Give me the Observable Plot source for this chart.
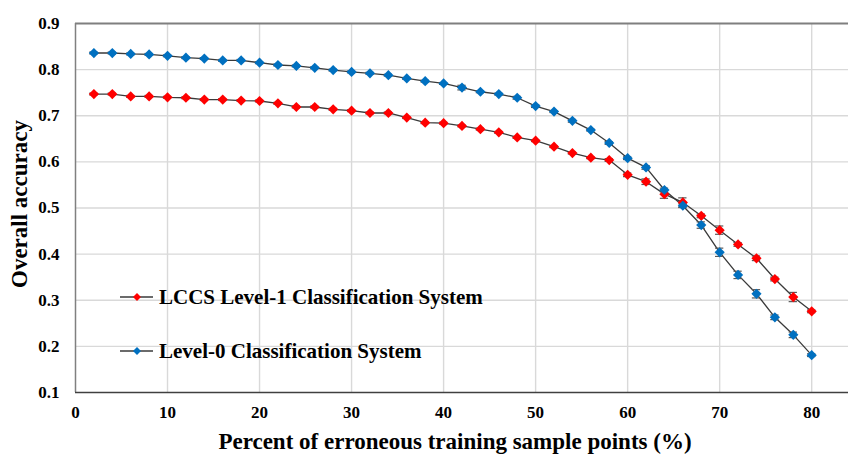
<!DOCTYPE html>
<html>
<head>
<meta charset="utf-8">
<script src="https://cdn.jsdelivr.net/npm/d3@7"></script>
<script src="https://cdn.jsdelivr.net/npm/@observablehq/plot@0.6"></script>
<style>
  html, body { margin: 0; padding: 0; background: #fff; }
  #chart { width: 848px; height: 454px; overflow: hidden; }
</style>
</head>
<body>
<div id="chart"></div>
<script>
// ---- data ----
const errorPct = [2,4,6,8,10,12,14,16,18,20,22,24,26,28,30,32,34,36,38,40,42,44,46,48,50,52,54,56,58,60,62,64,66,68,70,72,74,76,78,80];
const level1 = [0.747,0.747,0.742,0.742,0.740,0.739,0.735,0.735,0.733,0.732,0.727,0.719,0.719,0.714,0.711,0.706,0.706,0.696,0.685,0.684,0.678,0.671,0.664,0.653,0.646,0.633,0.619,0.609,0.604,0.572,0.557,0.530,0.512,0.483,0.452,0.421,0.391,0.346,0.307,0.276];
const level1Err = [0.002,0.002,0.002,0.002,0.002,0.002,0.002,0.002,0.002,0.002,0.002,0.002,0.002,0.002,0.002,0.002,0.002,0.002,0.002,0.002,0.002,0.002,0.002,0.002,0.002,0.002,0.002,0.002,0.003,0.004,0.006,0.009,0.010,0.004,0.009,0.004,0.005,0.004,0.010,0.003];
const level0 = [0.836,0.836,0.834,0.833,0.830,0.826,0.824,0.820,0.820,0.815,0.810,0.808,0.804,0.799,0.795,0.792,0.788,0.781,0.775,0.770,0.761,0.752,0.747,0.739,0.721,0.709,0.689,0.669,0.641,0.608,0.588,0.539,0.505,0.463,0.404,0.355,0.314,0.263,0.225,0.181];
const level0Err = [0.002,0.002,0.002,0.002,0.002,0.002,0.002,0.002,0.002,0.002,0.002,0.002,0.002,0.002,0.002,0.002,0.002,0.002,0.002,0.002,0.005,0.002,0.002,0.003,0.003,0.002,0.003,0.002,0.003,0.003,0.004,0.004,0.004,0.007,0.009,0.008,0.009,0.005,0.006,0.003];
const seriesNames = ["LCCS Level-1 Classification System", "Level-0 Classification System"];
const seriesColors = ["#ff0000", "#0070c0"];
const xTicks = [0,10,20,30,40,50,60,70,80];
const yTicks = [0.1,0.2,0.3,0.4,0.5,0.6,0.7,0.8,0.9];
const xTitle = "Percent of erroneous training sample points (%)";
const yTitle = "Overall accuracy";

const rows = [];
errorPct.forEach((x, i) => {
  rows.push({x, y: level1[i], e: level1Err[i], s: seriesNames[0]});
  rows.push({x, y: level0[i], e: level0Err[i], s: seriesNames[1]});
});

const font = "'Liberation Serif', 'Times New Roman', serif";

const svg = Plot.plot({
  width: 848,
  height: 454,
  marginLeft: 75,
  marginRight: 0,
  marginTop: 23,
  marginBottom: 62,
  style: {fontFamily: font, fontWeight: "bold", fontSize: "17px", background: "#fff", color: "#000", overflow: "visible"},
  x: {domain: [0, 84]},
  y: {domain: [0.1, 0.9]},
  color: {domain: seriesNames, range: seriesColors},
  marks: [
    Plot.gridX(xTicks.slice(1), {stroke: "#d9d9d9", strokeOpacity: 1, strokeWidth: 1.4}),
    Plot.gridY(yTicks.slice(1, -1), {stroke: "#d9d9d9", strokeOpacity: 1, strokeWidth: 1.4}),
    Plot.ruleY([0.9], {stroke: "#7f7f7f", strokeWidth: 2}),
    Plot.ruleX([0], {stroke: "#808080", strokeWidth: 1.5}),
    Plot.ruleY([0.1], {stroke: "#404040", strokeWidth: 1.5}),
    Plot.axisX({ticks: xTicks, tickSize: 0, tickPadding: 13, label: null, fontSize: 17, tickFormat: d3.format("d")}),
    Plot.axisY({ticks: yTicks, tickSize: 0, tickPadding: 16, label: null, fontSize: 17, tickFormat: d3.format(".1f")}),
    Plot.line(rows, {x: "x", y: "y", z: "s", stroke: "#3a3a3a", strokeWidth: 1.3}),
    Plot.ruleX(rows, {x: "x", y1: d => d.y - d.e, y2: d => d.y + d.e, stroke: "#595959", strokeWidth: 1.2}),
    Plot.ruleY(rows, {y: d => d.y - d.e, x1: d => d.x - 0.45, x2: d => d.x + 0.45, stroke: "#595959", strokeWidth: 1.2}),
    Plot.ruleY(rows, {y: d => d.y + d.e, x1: d => d.x - 0.45, x2: d => d.x + 0.45, stroke: "#595959", strokeWidth: 1.2}),
    Plot.dot(rows, {x: "x", y: "y", fill: "s", symbol: "diamond2", r: 4.6, stroke: "none"})
  ]
});

const g = d3.select(svg);
// axis titles
g.append("text")
  .attr("x", 455).attr("y", 449)
  .attr("text-anchor", "middle")
  .attr("font-family", font).attr("font-weight", "bold").attr("font-size", 23)
  .attr("fill", "#000")
  .text(xTitle);
g.append("text")
  .attr("transform", "translate(27,204) rotate(-90)")
  .attr("text-anchor", "middle")
  .attr("font-family", font).attr("font-weight", "bold").attr("font-size", 23)
  .attr("fill", "#000")
  .text(yTitle);

// legend
const legendY = [297, 351];
seriesNames.forEach((name, i) => {
  const ly = legendY[i];
  g.append("line").attr("x1", 120).attr("x2", 153).attr("y1", ly).attr("y2", ly)
    .attr("stroke", "#3a3a3a").attr("stroke-width", 1.3);
  g.append("path").attr("d", d3.symbol(d3.symbolDiamond2, 40)())
    .attr("transform", `translate(137,${ly})`).attr("fill", seriesColors[i]);
  g.append("text").attr("x", 159).attr("y", ly + 7)
    .attr("text-anchor", "start")
    .style("text-anchor", "start")
    .attr("font-family", font).attr("font-weight", "bold").attr("font-size", 21)
    .attr("fill", "#000")
    .text(name);
});

document.getElementById("chart").appendChild(svg);
</script>
</body>
</html>
